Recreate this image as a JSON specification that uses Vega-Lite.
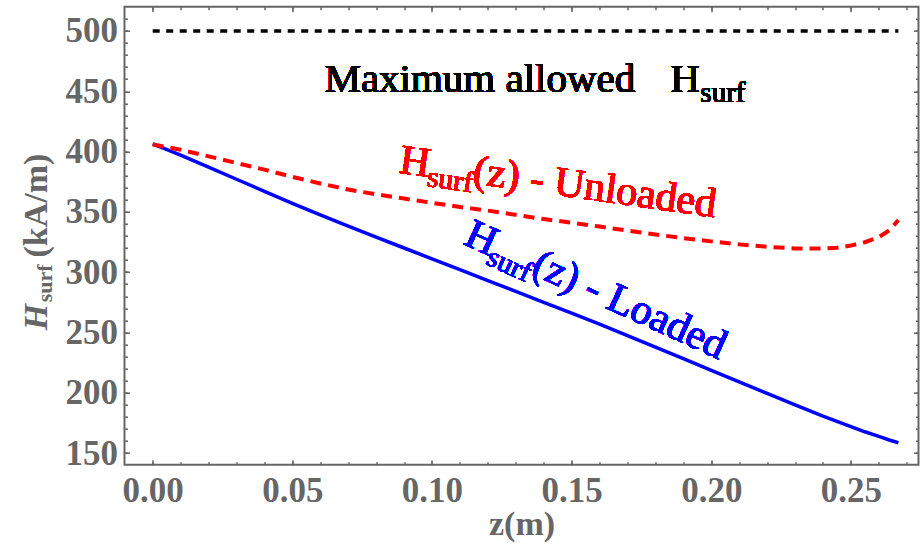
{
  "$schema": "https://vega.github.io/schema/vega-lite/v6.json",
  "width": 794,
  "height": 458,
  "autosize": {"type": "none"},
  "padding": {"left": 124.5, "top": 6.7, "right": 3.7, "bottom": 80.3},
  "background": "white",
  "config": {
    "view": {"stroke": "#666666", "strokeWidth": 2},
    "axis": {
      "grid": false,
      "domain": false,
      "tickColor": "#666666",
      "tickWidth": 1.5,
      "labelFont": "Liberation Serif",
      "labelFontWeight": "bold",
      "labelFontSize": 35,
      "labelColor": "#666666",
      "titleFont": "Liberation Serif",
      "titleFontWeight": "bold",
      "titleFontSize": 34,
      "titleColor": "#666666"
    }
  },
  "data": {
    "values": [
      {"z": 0, "H": 500, "series": "Max"},
      {"z": 0.267, "H": 500, "series": "Max"},
      {"z": 0, "H": 405.8, "series": "Unloaded"},
      {"z": 0.01, "H": 401.5, "series": "Unloaded"},
      {"z": 0.02, "H": 396, "series": "Unloaded"},
      {"z": 0.03, "H": 390.5, "series": "Unloaded"},
      {"z": 0.04, "H": 385, "series": "Unloaded"},
      {"z": 0.05, "H": 379, "series": "Unloaded"},
      {"z": 0.06, "H": 373.5, "series": "Unloaded"},
      {"z": 0.07, "H": 368.5, "series": "Unloaded"},
      {"z": 0.08, "H": 364.5, "series": "Unloaded"},
      {"z": 0.09, "H": 361, "series": "Unloaded"},
      {"z": 0.1, "H": 357.5, "series": "Unloaded"},
      {"z": 0.11, "H": 354, "series": "Unloaded"},
      {"z": 0.12, "H": 351, "series": "Unloaded"},
      {"z": 0.13, "H": 347.5, "series": "Unloaded"},
      {"z": 0.14, "H": 344, "series": "Unloaded"},
      {"z": 0.15, "H": 341, "series": "Unloaded"},
      {"z": 0.16, "H": 337.8, "series": "Unloaded"},
      {"z": 0.17, "H": 334.5, "series": "Unloaded"},
      {"z": 0.18, "H": 331.2, "series": "Unloaded"},
      {"z": 0.19, "H": 328.2, "series": "Unloaded"},
      {"z": 0.2, "H": 325.5, "series": "Unloaded"},
      {"z": 0.21, "H": 323, "series": "Unloaded"},
      {"z": 0.22, "H": 321, "series": "Unloaded"},
      {"z": 0.23, "H": 319.6, "series": "Unloaded"},
      {"z": 0.24, "H": 319.5, "series": "Unloaded"},
      {"z": 0.245, "H": 320.3, "series": "Unloaded"},
      {"z": 0.25, "H": 322, "series": "Unloaded"},
      {"z": 0.255, "H": 324.8, "series": "Unloaded"},
      {"z": 0.26, "H": 329, "series": "Unloaded"},
      {"z": 0.264, "H": 335, "series": "Unloaded"},
      {"z": 0.267, "H": 343.2, "series": "Unloaded"},
      {"z": 0, "H": 406.3, "series": "Loaded"},
      {"z": 0.01, "H": 397, "series": "Loaded"},
      {"z": 0.02, "H": 387, "series": "Loaded"},
      {"z": 0.03, "H": 377, "series": "Loaded"},
      {"z": 0.04, "H": 367, "series": "Loaded"},
      {"z": 0.05, "H": 357, "series": "Loaded"},
      {"z": 0.06, "H": 347.5, "series": "Loaded"},
      {"z": 0.07, "H": 338.2, "series": "Loaded"},
      {"z": 0.08, "H": 329, "series": "Loaded"},
      {"z": 0.09, "H": 320, "series": "Loaded"},
      {"z": 0.1, "H": 311, "series": "Loaded"},
      {"z": 0.11, "H": 302, "series": "Loaded"},
      {"z": 0.12, "H": 293, "series": "Loaded"},
      {"z": 0.13, "H": 284, "series": "Loaded"},
      {"z": 0.14, "H": 275, "series": "Loaded"},
      {"z": 0.15, "H": 266, "series": "Loaded"},
      {"z": 0.16, "H": 256.8, "series": "Loaded"},
      {"z": 0.17, "H": 247.4, "series": "Loaded"},
      {"z": 0.18, "H": 237.8, "series": "Loaded"},
      {"z": 0.19, "H": 228.2, "series": "Loaded"},
      {"z": 0.2, "H": 218.6, "series": "Loaded"},
      {"z": 0.21, "H": 209, "series": "Loaded"},
      {"z": 0.22, "H": 199.4, "series": "Loaded"},
      {"z": 0.23, "H": 190, "series": "Loaded"},
      {"z": 0.24, "H": 180.6, "series": "Loaded"},
      {"z": 0.25, "H": 171.8, "series": "Loaded"},
      {"z": 0.255, "H": 167.6, "series": "Loaded"},
      {"z": 0.26, "H": 163.8, "series": "Loaded"},
      {"z": 0.264, "H": 160.6, "series": "Loaded"},
      {"z": 0.267, "H": 158.5, "series": "Loaded"}
    ]
  },
  "layer": [
    {
      "transform": [{"filter": "datum.series === 'Loaded'"}],
      "mark": {"type": "line", "color": "#0000ff", "strokeWidth": 3.5},
      "encoding": {
        "x": {
          "field": "z", "type": "quantitative",
          "scale": {"domain": [-0.0101, 0.2742], "nice": false, "zero": false},
          "axis": {
            "orient": "bottom",
            "values": [0, 0.05, 0.1, 0.15, 0.2, 0.25],
            "format": ".2f",
            "tickSize": -5,
            "labelPadding": 14,
            "labelFlush": false,
            "labelOverlap": false,
            "title": "z(m)",
            "titleX": 397,
            "titleY": 70,
            "titleAlign": "center",
            "titleBaseline": "alphabetic"
          }
        },
        "y": {
          "field": "H", "type": "quantitative",
          "scale": {"domain": [140.3, 520.1], "nice": false, "zero": false},
          "axis": {
            "orient": "left",
            "values": [150, 200, 250, 300, 350, 400, 450, 500],
            "tickSize": -5,
            "labelPadding": 12,
            "labelFlush": false,
            "labelOverlap": false,
            "title": "(kA/m)",
            "titleAngle": 270,
            "titleX": -77.5,
            "titleY": 250.3,
            "titleAlign": "left",
            "titleBaseline": "alphabetic"
          }
        }
      }
    },
    {
      "transform": [{"filter": "datum.series === 'Unloaded'"}],
      "mark": {"type": "line", "color": "#ff0000", "strokeWidth": 4, "strokeDash": [11, 7]},
      "encoding": {
        "x": {
          "field": "z", "type": "quantitative",
          "scale": {"domain": [-0.0101, 0.2742], "nice": false, "zero": false},
          "axis": {
            "orient": "bottom",
            "values": [0, 0.01, 0.02, 0.03, 0.04, 0.05, 0.06, 0.07, 0.08, 0.09, 0.1, 0.11, 0.12, 0.13, 0.14, 0.15, 0.16, 0.17, 0.18, 0.19, 0.2, 0.21, 0.22, 0.23, 0.24, 0.25, 0.26, 0.27],
            "tickSize": -3,
            "labels": false,
            "title": null
          }
        },
        "y": {
          "field": "H", "type": "quantitative",
          "scale": {"domain": [140.3, 520.1], "nice": false, "zero": false},
          "axis": {
            "orient": "left",
            "values": [150, 160, 170, 180, 190, 200, 210, 220, 230, 240, 250, 260, 270, 280, 290, 300, 310, 320, 330, 340, 350, 360, 370, 380, 390, 400, 410, 420, 430, 440, 450, 460, 470, 480, 490, 500, 510],
            "tickSize": -3,
            "labels": false,
            "title": "H",
            "titleFontStyle": "italic",
            "titleAngle": 270,
            "titleX": -77.5,
            "titleY": 323,
            "titleAlign": "left",
            "titleBaseline": "alphabetic"
          }
        }
      }
    },
    {
      "transform": [{"filter": "datum.series === 'Max'"}],
      "mark": {"type": "line", "color": "#000000", "strokeWidth": 3.5, "strokeDash": [7, 6.5]},
      "encoding": {
        "x": {
          "field": "z", "type": "quantitative",
          "scale": {"domain": [-0.0101, 0.2742], "nice": false, "zero": false},
          "axis": {
            "orient": "top",
            "values": [0, 0.05, 0.1, 0.15, 0.2, 0.25],
            "tickSize": -5,
            "labels": false,
            "title": null
          }
        },
        "y": {
          "field": "H", "type": "quantitative",
          "scale": {"domain": [140.3, 520.1], "nice": false, "zero": false},
          "axis": {
            "orient": "right",
            "values": [150, 200, 250, 300, 350, 400, 450, 500],
            "tickSize": -5,
            "labels": false,
            "title": null
          }
        }
      }
    },
    {
      "transform": [{"filter": "datum.series === 'Max'"}],
      "mark": {"type": "line", "opacity": 0},
      "encoding": {
        "x": {
          "field": "z", "type": "quantitative",
          "scale": {"domain": [-0.0101, 0.2742], "nice": false, "zero": false},
          "axis": {
            "orient": "top",
            "values": [0, 0.01, 0.02, 0.03, 0.04, 0.05, 0.06, 0.07, 0.08, 0.09, 0.1, 0.11, 0.12, 0.13, 0.14, 0.15, 0.16, 0.17, 0.18, 0.19, 0.2, 0.21, 0.22, 0.23, 0.24, 0.25, 0.26, 0.27],
            "tickSize": -3,
            "labels": false,
            "title": "surf",
            "titleFontSize": 22,
            "titleAngle": 270,
            "titleX": -72.5,
            "titleY": 295,
            "titleAlign": "left",
            "titleBaseline": "alphabetic"
          }
        },
        "y": {
          "field": "H", "type": "quantitative",
          "scale": {"domain": [140.3, 520.1], "nice": false, "zero": false},
          "axis": {
            "orient": "right",
            "values": [150, 160, 170, 180, 190, 200, 210, 220, 230, 240, 250, 260, 270, 280, 290, 300, 310, 320, 330, 340, 350, 360, 370, 380, 390, 400, 410, 420, 430, 440, 450, 460, 470, 480, 490, 500, 510],
            "tickSize": -3,
            "labels": false,
            "title": null
          }
        }
      }
    },
    {
      "mark": {"type": "text", "text": "Maximum allowed", "font": "Liberation Serif", "fontWeight": "normal", "fontSize": 41, "align": "left", "baseline": "alphabetic", "fill": "#000000"},
      "encoding": {
        "x": {"datum": 0.0615, "type": "quantitative", "axis": null},
        "y": {"datum": 449.7, "type": "quantitative", "axis": null}
      }
    },
    {
      "mark": {"type": "text", "text": "H", "font": "Liberation Serif", "fontWeight": "normal", "fontSize": 41, "align": "left", "baseline": "alphabetic", "fill": "#000000"},
      "encoding": {
        "x": {"datum": 0.1853, "type": "quantitative", "axis": null},
        "y": {"datum": 449.7, "type": "quantitative", "axis": null}
      }
    },
    {
      "mark": {"type": "text", "text": "surf", "font": "Liberation Serif", "fontWeight": "normal", "fontSize": 29, "align": "left", "baseline": "alphabetic", "fill": "#000000"},
      "encoding": {
        "x": {"datum": 0.1961, "type": "quantitative", "axis": null},
        "y": {"datum": 441.4, "type": "quantitative", "axis": null}
      }
    },
    {
      "mark": {"type": "text", "text": "H", "font": "Liberation Serif", "fontWeight": "normal", "fontSize": 42, "align": "left", "baseline": "alphabetic", "angle": 8, "fill": "#ff0000"},
      "encoding": {
        "x": {"datum": 0.08795, "type": "quantitative", "axis": null},
        "y": {"datum": 382.3, "type": "quantitative", "axis": null}
      }
    },
    {
      "mark": {"type": "text", "text": "surf", "font": "Liberation Serif", "fontWeight": "normal", "fontSize": 29.5, "align": "left", "baseline": "alphabetic", "angle": 8, "fill": "#ff0000"},
      "encoding": {
        "x": {"datum": 0.09795, "type": "quantitative", "axis": null},
        "y": {"datum": 371.4, "type": "quantitative", "axis": null}
      }
    },
    {
      "mark": {"type": "text", "text": "(z) - Unloaded", "font": "Liberation Serif", "fontWeight": "normal", "fontSize": 42, "align": "left", "baseline": "alphabetic", "angle": 8, "fill": "#ff0000"},
      "encoding": {
        "x": {"datum": 0.11430, "type": "quantitative", "axis": null},
        "y": {"datum": 373.7, "type": "quantitative", "axis": null}
      }
    },
    {
      "mark": {"type": "text", "text": "H", "font": "Liberation Serif", "fontWeight": "normal", "fontSize": 42, "align": "left", "baseline": "alphabetic", "angle": 24.5, "fill": "#0000ff"},
      "encoding": {
        "x": {"datum": 0.11086, "type": "quantitative", "axis": null},
        "y": {"datum": 323.5, "type": "quantitative", "axis": null}
      }
    },
    {
      "mark": {"type": "text", "text": "surf", "font": "Liberation Serif", "fontWeight": "normal", "fontSize": 29.5, "align": "left", "baseline": "alphabetic", "angle": 24.5, "fill": "#0000ff"},
      "encoding": {
        "x": {"datum": 0.1189, "type": "quantitative", "axis": null},
        "y": {"datum": 307.0, "type": "quantitative", "axis": null}
      }
    },
    {
      "mark": {"type": "text", "text": "(z) - Loaded", "font": "Liberation Serif", "fontWeight": "normal", "fontSize": 42, "align": "left", "baseline": "alphabetic", "angle": 24.5, "fill": "#0000ff"},
      "encoding": {
        "x": {"datum": 0.13510, "type": "quantitative", "axis": null},
        "y": {"datum": 298.8, "type": "quantitative", "axis": null}
      }
    }
  ],
  "resolve": {"axis": {"x": "independent", "y": "independent"}}
}
